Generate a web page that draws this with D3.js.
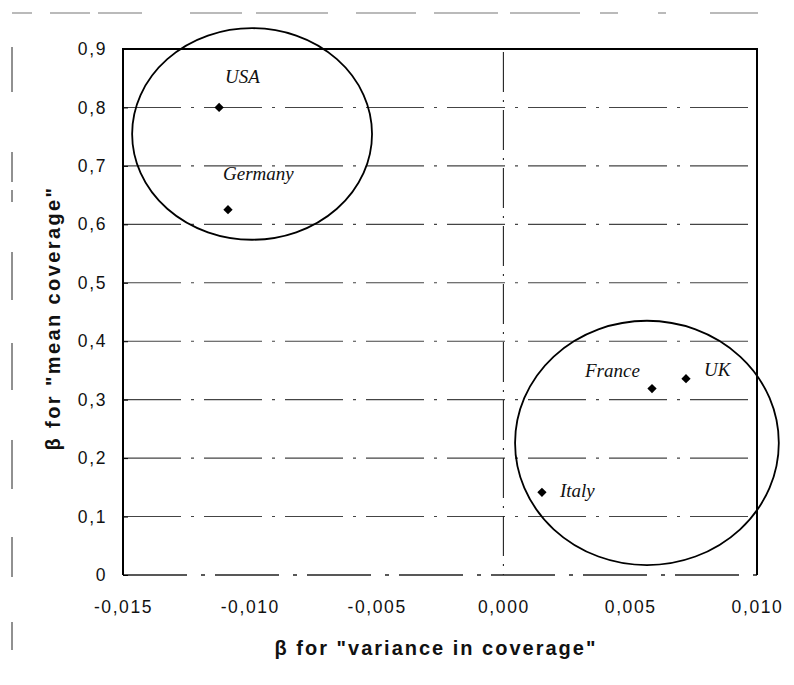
<!DOCTYPE html>
<html>
<head>
<meta charset="utf-8">
<script src="https://cdn.jsdelivr.net/npm/d3@7"></script>
<style>
  body { margin: 0; background: #fff; }
  svg { display: block; }
</style>
</head>
<body>
<div id="chart"></div>
<script>
// Country points (beta variance, beta mean)
const countries = ["USA", "Germany", "France", "UK", "Italy"];
const betaVariance = [-0.01121, -0.01086, 0.00586, 0.0072, 0.00152];
const betaMean = [0.8, 0.625, 0.319, 0.336, 0.1415];

// Tick values
const xTicks = [-0.015, -0.010, -0.005, 0.000, 0.005, 0.010];
const yTicks = [0, 0.1, 0.2, 0.3, 0.4, 0.5, 0.6, 0.7, 0.8, 0.9];

// Group ellipses in data units: centre x, centre y, radius x, radius y
const groupCx = [-0.00991, 0.00566];
const groupCy = [0.7546, 0.226];
const groupRx = [0.00473, 0.0052];
const groupRy = [0.181, 0.209];

const width = 794, height = 685;
const margin = { top: 49, right: 37, bottom: 110, left: 123 };

const svg = d3.select("#chart")
  .append("svg")
  .attr("width", width)
  .attr("height", height);

// scan border artefacts (dashed frame at top and left)
svg.append("line")
  .attr("x1", 12).attr("x2", width).attr("y1", 13).attr("y2", 13)
  .attr("stroke", "#777").attr("stroke-width", 1.2)
  .attr("stroke-dasharray", "20,18,40,8,44,48,52,14,72,28,60,18,64,12,70");
svg.append("line")
  .attr("x1", 12).attr("x2", 12).attr("y1", 47).attr("y2", 650)
  .attr("stroke", "#222").attr("stroke-width", 1)
  .attr("stroke-dasharray", "45,60,30,8,12,50,48,43,47,50,49,48,40");

const x = d3.scaleLinear()
  .domain([-0.015, 0.010])
  .range([margin.left, width - margin.right]);

const y = d3.scaleLinear()
  .domain([0, 0.9])
  .range([height - margin.bottom, margin.top]);

const font = "Liberation Sans, Arial, sans-serif";

// horizontal gridlines
svg.append("g")
  .selectAll("line")
  .data(yTicks.slice(1, -1))
  .join("line")
  .attr("x1", x(-0.015)).attr("x2", x(0.010))
  .attr("y1", d => y(d)).attr("y2", d => y(d))
  .attr("stroke", "#444").attr("stroke-width", 1.1)
  .attr("stroke-dasharray", "58,10,3,10");

// bottom edge
svg.append("line")
  .attr("x1", x(-0.015)).attr("x2", x(0.010))
  .attr("y1", y(0)).attr("y2", y(0))
  .attr("stroke", "#222").attr("stroke-width", 1.3)
  .attr("stroke-dasharray", "64,14,4,10");

// vertical line at zero
svg.append("line")
  .attr("x1", x(0)).attr("x2", x(0))
  .attr("y1", y(0.9) + 3).attr("y2", y(0))
  .attr("stroke", "#222").attr("stroke-width", 1.1)
  .attr("stroke-dasharray", "40,8,2,8");

// frame: top, left, right
svg.append("path")
  .attr("d", `M${x(-0.015)},${y(0)}V${y(0.9)}H${x(0.010)}V${y(0)}`)
  .attr("fill", "none")
  .attr("stroke", "#000")
  .attr("stroke-width", 2);

// y axis ticks
const yAxis = svg.append("g")
  .attr("transform", `translate(${x(-0.015)},0)`)
  .call(d3.axisLeft(y).tickValues(yTicks).tickSize(-5)
    .tickFormat(d => d === 0 ? "0" : d3.format(".1f")(d).replace(".", ",")));
yAxis.select(".domain").remove();
yAxis.selectAll("line").attr("stroke", "#000");
yAxis.selectAll("text")
  .attr("x", -16)
  .attr("font-family", font)
  .attr("font-size", 17.5)
  .attr("letter-spacing", 1.6)
  .attr("fill", "#111");

// x axis labels
const xAxis = svg.append("g")
  .attr("transform", `translate(0,${y(0)})`)
  .call(d3.axisBottom(x).tickValues(xTicks).tickSize(0)
    .tickFormat(d => d3.format(".3f")(d).replace(".", ",").replace("−", "-")));
xAxis.select(".domain").remove();
xAxis.selectAll("text")
  .attr("y", 26)
  .attr("font-family", font)
  .attr("font-size", 17.5)
  .attr("letter-spacing", 1.6)
  .attr("fill", "#111");

// axis titles
svg.append("text")
  .attr("x", 436).attr("y", 655)
  .attr("text-anchor", "middle")
  .attr("font-family", font)
  .attr("font-weight", "bold")
  .attr("font-size", 20)
  .attr("letter-spacing", 2)
  .attr("fill", "#111")
  .text('β for "variance in coverage"');

svg.append("text")
  .attr("transform", `translate(60,318) rotate(-90)`)
  .attr("text-anchor", "middle")
  .attr("font-family", font)
  .attr("font-weight", "bold")
  .attr("font-size", 20)
  .attr("letter-spacing", 2.4)
  .attr("fill", "#111")
  .text('β for "mean coverage"');

// group ellipses
svg.append("g")
  .selectAll("ellipse")
  .data(groupCx)
  .join("ellipse")
  .attr("cx", d => x(d))
  .attr("cy", (d, i) => y(groupCy[i]))
  .attr("rx", (d, i) => x(groupRx[i]) - x(0))
  .attr("ry", (d, i) => y(0) - y(groupRy[i]))
  .attr("fill", "none")
  .attr("stroke", "#000")
  .attr("stroke-width", 1.8);

// points
const pts = countries.map((c, i) => ({ name: c, vx: betaVariance[i], vy: betaMean[i] }));
svg.append("g")
  .selectAll("path")
  .data(pts)
  .join("path")
  .attr("transform", d => `translate(${x(d.vx)},${y(d.vy)})`)
  .attr("d", d3.symbol(d3.symbolDiamond2, 55))
  .attr("fill", "#000");

// labels
const labelDx = [6, -5, -67, 18, 18];
const labelDy = [-24, -30, -12, -3, 5];
svg.append("g")
  .selectAll("text")
  .data(pts)
  .join("text")
  .attr("x", (d, i) => x(d.vx) + labelDx[i])
  .attr("y", (d, i) => y(d.vy) + labelDy[i])
  .attr("font-family", "Liberation Serif, Times New Roman, serif")
  .attr("font-style", "italic")
  .attr("font-size", 19)
  .attr("fill", "#111")
  .text(d => d.name);
</script>
</body>
</html>
